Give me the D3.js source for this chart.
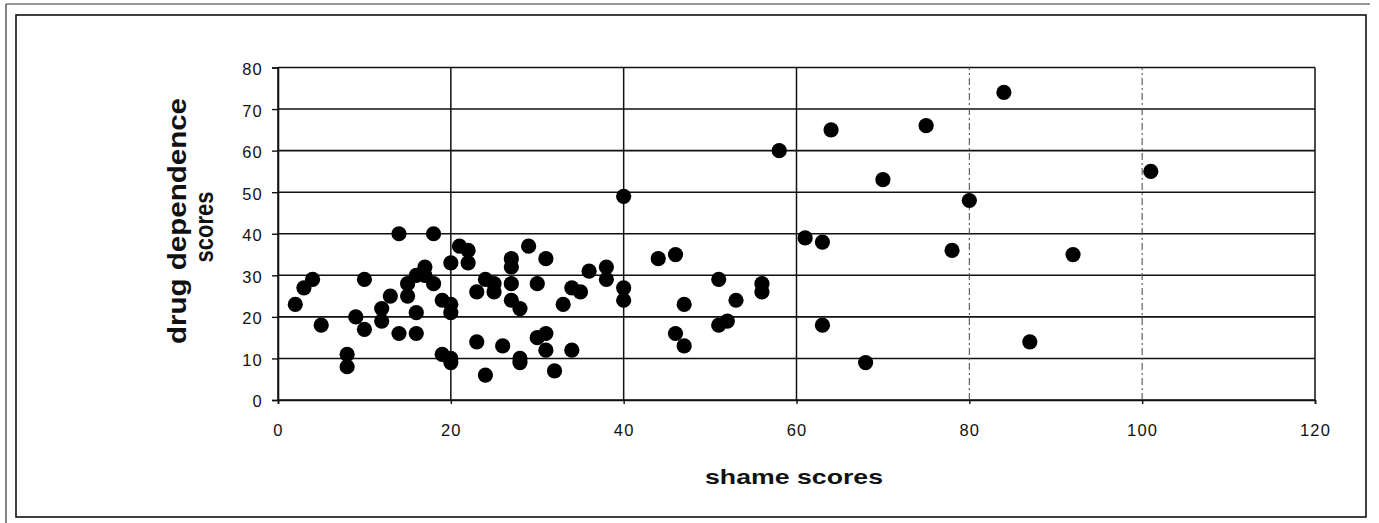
<!DOCTYPE html>
<html>
<head>
<meta charset="utf-8">
<script src="https://cdn.jsdelivr.net/npm/d3@7/dist/d3.min.js"></script>
<style>
  html, body { margin: 0; padding: 0; background: #fff; }
  svg { display: block; }
  text { font-family: "Liberation Sans", Arial, sans-serif; fill: #111; }
</style>
</head>
<body>
<svg id="chart" width="1379" height="523"></svg>
<script>
// ---- data ----
const shameScores = [2,3,4,5,8,8,9,10,10,12,12,13,14,14,15,15,16,16,16,17,17,18,18,19,19,20,20,20,20,20,21,22,22,23,23,24,24,25,25,26,27,27,27,27,28,28,28,29,30,30,31,31,31,32,33,34,34,35,36,38,38,40,40,40,44,46,47,46,47,51,53,51,52,56,56,58,61,63,63,64,68,70,75,78,80,84,87,92,101];
const drugScores  = [23,27,29,18,11,8,20,29,17,19,22,25,16,40,25,28,30,21,16,32,30,28,40,24,11,23,21,10,9,33,37,36,33,26,14,29,6,28,26,13,34,32,28,24,22,10,9,37,28,15,16,12,34,7,23,27,12,26,31,32,29,27,24,49,34,35,23,16,13,29,24,18,19,28,26,60,39,38,18,65,9,53,66,36,48,74,14,35,55];
const xTicks = [0,20,40,60,80,100,120];
const yTicks = [0,10,20,30,40,50,60,70,80];
const xTitle = "shame scores";
const yTitleLines = ["drug dependence", "scores"];

const svg = d3.select("#chart");

// frame
svg.append("rect").attr("x",16).attr("y",15).attr("width",1350).attr("height",502)
  .attr("fill","none").attr("stroke","#111").attr("stroke-width",1.6);
svg.append("line").attr("x1",6).attr("x2",6).attr("y1",4).attr("y2",523)
  .attr("stroke","#333").attr("stroke-width",1.2);
svg.append("line").attr("x1",6).attr("x2",1370).attr("y1",4).attr("y2",4)
  .attr("stroke","#333").attr("stroke-width",1.2);

const x = d3.scaleLinear().domain([0,120]).range([278,1315]);
const y = d3.scaleLinear().domain([0,80]).range([400,67.5]);

// horizontal gridlines
svg.append("g").selectAll("line").data(yTicks).join("line")
  .attr("x1", x(0)).attr("x2", x(120))
  .attr("y1", d => y(d)).attr("y2", d => y(d))
  .attr("stroke","#111").attr("stroke-width",1.6);

// vertical gridlines
svg.append("g").selectAll("line").data(xTicks).join("line")
  .attr("x1", d => x(d)).attr("x2", d => x(d))
  .attr("y1", y(0)).attr("y2", y(80))
  .attr("stroke", d => (d === 80 || d === 100) ? "#555" : "#111")
  .attr("stroke-width", d => (d === 80 || d === 100) ? 1.1 : 1.5)
  .attr("stroke-dasharray", d => (d === 80 || d === 100) ? "7,3,2,3" : null);

// y axis
const yAxis = svg.append("g").attr("transform", `translate(${x(0)},0)`)
  .call(d3.axisLeft(y).tickValues(yTicks).tickSize(6).tickPadding(9).tickFormat(d3.format("d")));
yAxis.select(".domain").attr("stroke","#111").attr("stroke-width",1.6);
yAxis.selectAll(".tick line").attr("stroke","#111").attr("stroke-width",1.4);
yAxis.selectAll("text").attr("font-size","16.5px").attr("letter-spacing","1.2px")
  .attr("fill","#111").attr("font-family","Liberation Sans, Arial, sans-serif").attr("dy","0.42em");

// x axis
const xAxis = svg.append("g").attr("transform", `translate(0,${y(0)})`)
  .call(d3.axisBottom(x).tickValues(xTicks).tickSize(4).tickPadding(20).tickFormat(d3.format("d")));
xAxis.select(".domain").attr("stroke","#111").attr("stroke-width",1.6);
xAxis.selectAll(".tick line").attr("stroke","#111").attr("stroke-width",1.4);
xAxis.selectAll("text").attr("font-size","16.5px").attr("letter-spacing","1.2px")
  .attr("fill","#111").attr("font-family","Liberation Sans, Arial, sans-serif");

// points
svg.append("g").selectAll("circle").data(shameScores.map((s,i)=>[s,drugScores[i]])).join("circle")
  .attr("cx", d => x(d[0])).attr("cy", d => y(d[1])).attr("r", 7.6).attr("fill","#000");

// axis titles
svg.append("text").attr("x", 794).attr("y", 484).attr("text-anchor","middle")
  .attr("font-size","21px").attr("font-weight","bold")
  .attr("textLength",178).attr("lengthAdjust","spacingAndGlyphs").text(xTitle);

const yt = svg.append("text").attr("transform","rotate(-90)")
  .attr("font-size","25px").attr("font-weight","bold").attr("text-anchor","middle");
yt.append("tspan").attr("x", -221).attr("y", 186)
  .attr("textLength",246).attr("lengthAdjust","spacingAndGlyphs").text(yTitleLines[0]);
yt.append("tspan").attr("x", -227).attr("y", 213)
  .attr("textLength",71).attr("lengthAdjust","spacingAndGlyphs").text(yTitleLines[1]);
</script>
</body>
</html>
